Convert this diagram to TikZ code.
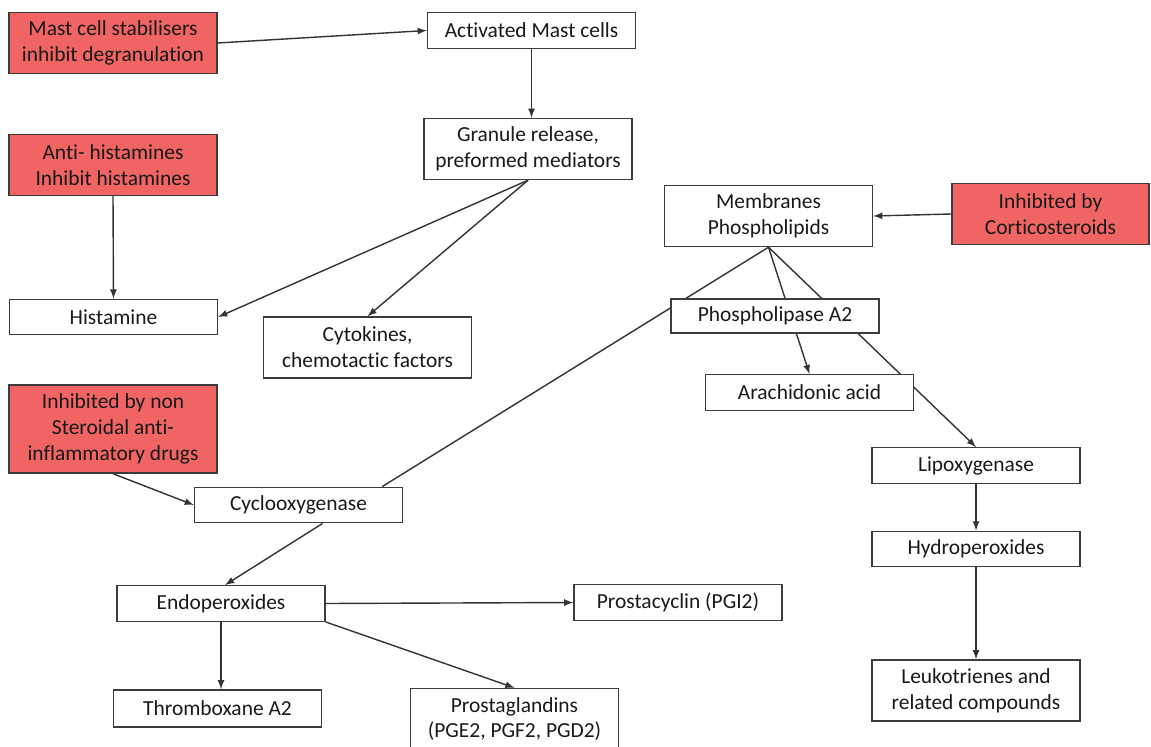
\documentclass[tikz,border=0pt]{standalone}
\usepackage{fontspec}
\setmainfont{Carlito}[Ligatures=CommonOff]
\usepackage{tikz}
\definecolor{blockred}{RGB}{240,100,100}
\definecolor{edgegray}{RGB}{60,60,60}
\usetikzlibrary{calc,backgrounds}

\begin{document}
\begin{tikzpicture}[x=0.02cm,y=-0.02cm,
    >=latex,
    box/.style={draw=edgegray,line width=0.8pt,fill=white,text=black!90,align=center,
        minimum width=4.16cm,inner sep=1pt,font=\fontsize{12.2}{14.7}\selectfont},
    one/.style={box,minimum height=0.71cm},
    two/.style={box,minimum height=1.22cm},
    three/.style={box,minimum height=1.76cm},
    drug/.style={fill=blockred},
    link/.style={draw=black!80,line width=0.8pt}
]
\useasboundingbox (0,0) rectangle (1151,746);

\node[two,drug] (mast) at (113,43) {Mast cell stabilisers\\inhibit degranulation};
\node[one] (act) at (531.5,30.5) {Activated Mast cells};
\node[two] (gran) at (528,149) {Granule release,\\preformed mediators};
\node[two,drug] (anti) at (113,165) {Anti- histamines\\Inhibit histamines};
\node[one] (hist) at (113.5,317) {Histamine};
\node[two] (cyto) at (367.5,347.5) {Cytokines,\\chemotactic factors};
\node[two] (mem) at (768.5,216) {Membranes\\Phospholipids};
\node[two,drug,minimum width=3.94cm] (cort) at (1050.5,214) {Inhibited by\\Corticosteroids};
\node[one,minimum height=0.68cm] (pla) at (775,316) {Phospholipase A2};
\node[one] (arach) at (809.5,392.5) {Arachidonic acid};
\node[one] (lipo) at (976,465.5) {Lipoxygenase};
\node[one] (hydro) at (976,549) {Hydroperoxides};
\node[two] (leuko) at (976,690.5) {Leukotrienes and\\related compounds};
\node[three,drug] (nsaid) at (113,429) {Inhibited by non\\Steroidal anti-\\inflammatory drugs};
\node[one] (cyclo) at (298.5,505) {Cyclooxygenase};
\node[one] (endo) at (221,603.5) {Endoperoxides};
\node[one] (prcy) at (678,602.5) {Prostacyclin (PGI2)};
\node[one,minimum height=0.74cm] (thrx) at (217.5,708.5) {Thromboxane A2};
\node[two] (prgl) at (514.5,719) {Prostaglandins\\(PGE2, PGF2, PGD2)};

\begin{scope}[on background layer]
\draw[link,->] (mast.east) -- (act.west);
\draw[link,->] (act.south) -- (act.south |- gran.north);
\draw[link,->] (anti.south) -- (hist.north);
\draw[link,->] (gran.south) -- (hist.east);
\draw[link,->] (gran.south) -- (cyto.north);
\draw[link,->] (cort.west) -- (mem.east);
\draw[link] (mem.south) -- ($(cyclo.north)!0.8!(cyclo.north east)$);
\draw[link,->] (mem.south) -- (arach.north);
\draw[link,->] (mem.south) -- (lipo.north);
\draw[link,->] (lipo.south) -- (hydro.north);
\draw[link,->] (hydro.south) -- (leuko.north);
\draw[link,->] (nsaid.south) -- (cyclo.west);
\draw[link,->] ([xshift=0.48cm]cyclo.south) -- ([xshift=0.08cm]endo.north);
\draw[link,->] (endo.east) -- (prcy.west);
\draw[link,->] (endo.south) -- (endo.south |- thrx.north);
\draw[link,->] (endo.south east) -- (prgl.north);
\end{scope}
\end{tikzpicture}
\end{document}
